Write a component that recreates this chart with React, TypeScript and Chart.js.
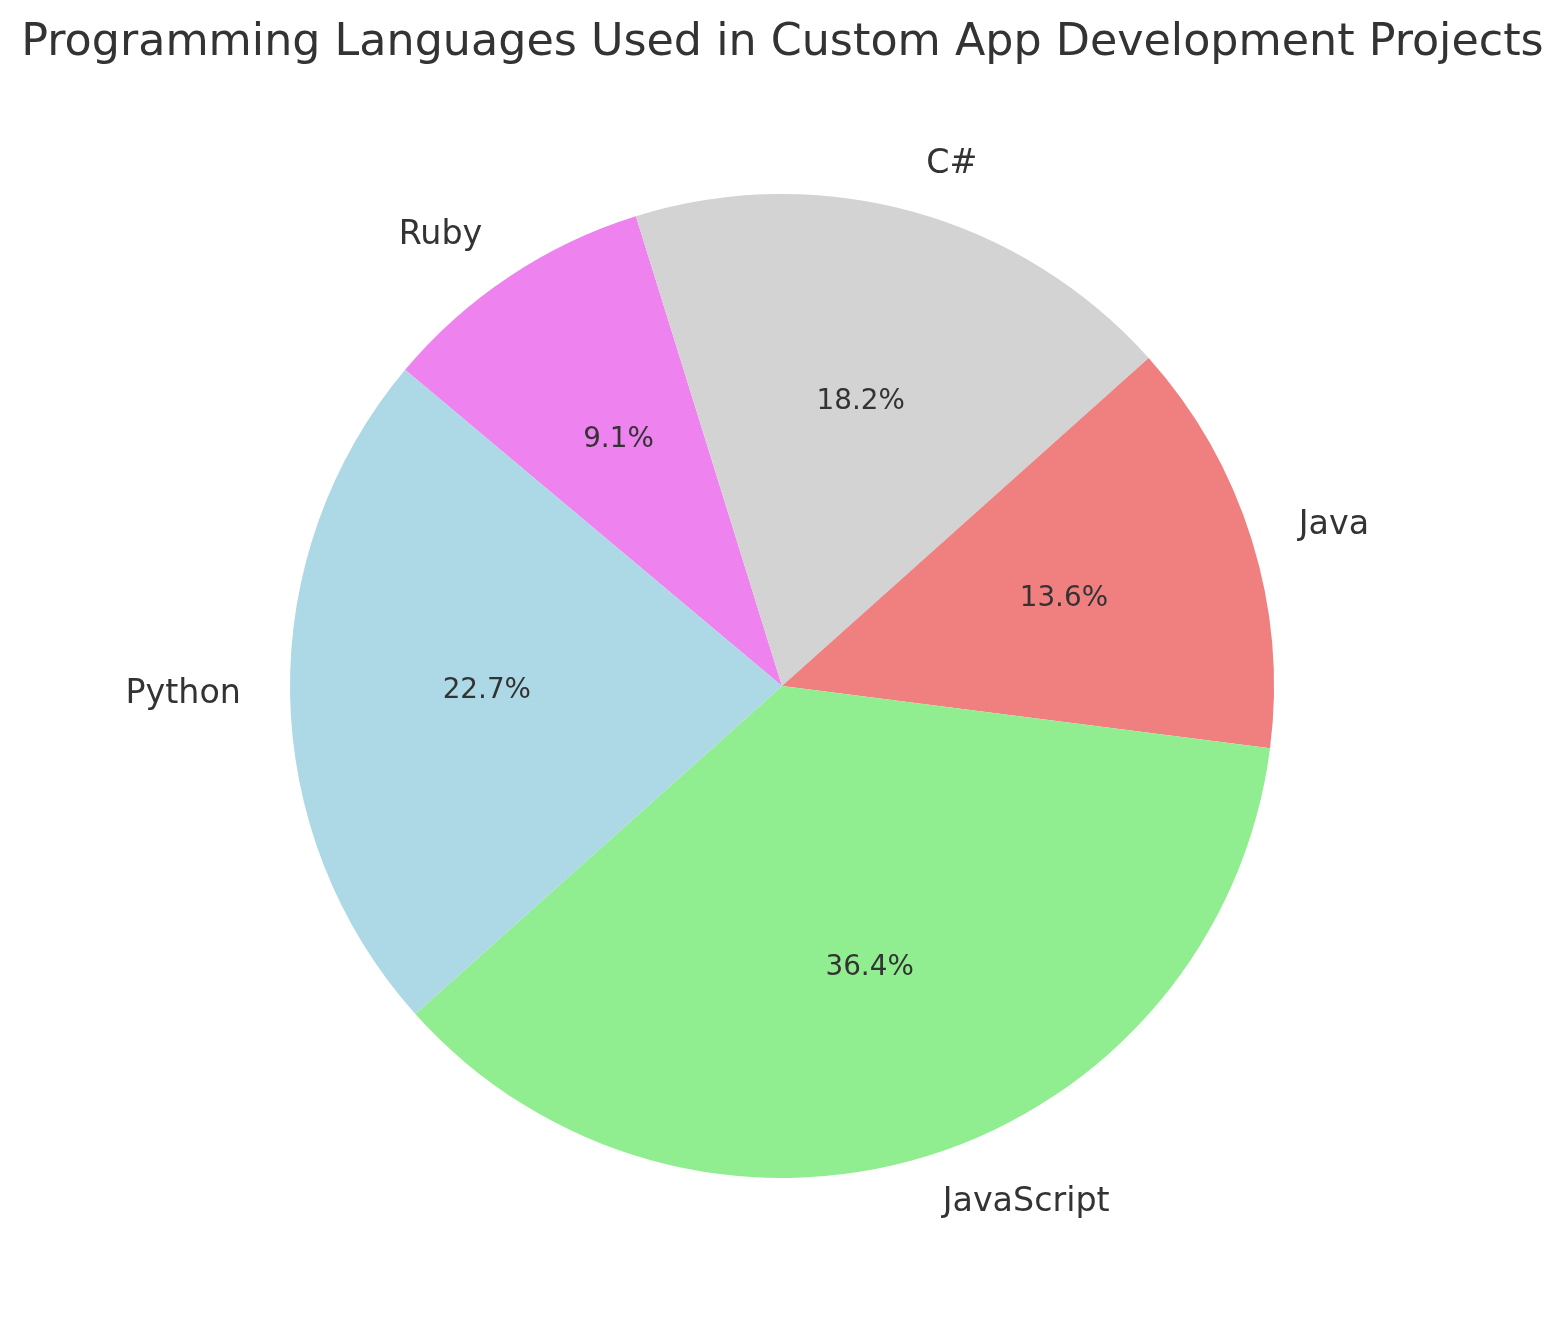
import React, { useEffect, useRef } from "react";
import { Chart, registerables } from "chart.js";

Chart.register(...registerables);

const TITLE = "Programming Languages Used in Custom App Development Projects";
const languages = ["Python", "JavaScript", "Java", "C#", "Ruby"];
const projectCounts = [25, 40, 15, 20, 10];
const sliceColors = ["#ADD8E6", "#90EE90", "#F08080", "#D3D3D3", "#EE82EE"];

const W = 1565;
const H = 1322;
const FONT = "'DejaVu Sans', 'Liberation Sans', sans-serif";
const TEXT = "#333333";

const labelPlugin = {
  id: "mplLabels",
  afterDraw(chart: any) {
    const ctx = chart.ctx;
    const meta = chart.getDatasetMeta(0);
    const data = chart.data.datasets[0].data as number[];
    const total = data.reduce((a: number, b: number) => a + b, 0);
    ctx.save();
    ctx.fillStyle = TEXT;
    // title
    ctx.font = `44.4px ${FONT}`;
    ctx.textAlign = "center";
    ctx.textBaseline = "alphabetic";
    ctx.fillText(TITLE, W / 2, 55);
    meta.data.forEach((arc: any, i: number) => {
      const { x, y, startAngle, endAngle, outerRadius } = arc.getProps(
        ["x", "y", "startAngle", "endAngle", "outerRadius"],
        true
      );
      const mid = (startAngle + endAngle) / 2;
      const c = Math.cos(mid);
      const s = Math.sin(mid);
      // outer label
      ctx.font = `33.3px ${FONT}`;
      ctx.textBaseline = "middle";
      ctx.textAlign = c > 0 ? "left" : "right";
      ctx.fillText(
        chart.data.labels[i],
        x + 1.1 * outerRadius * c,
        y + 1.1 * outerRadius * s
      );
      // percent label
      ctx.font = `27.8px ${FONT}`;
      ctx.textAlign = "center";
      const pct = ((data[i] / total) * 100).toFixed(1) + "%";
      ctx.fillText(pct, x + 0.6 * outerRadius * c, y + 0.6 * outerRadius * s);
    });
    ctx.restore();
  },
};

export default function App() {
  const ref = useRef<HTMLCanvasElement | null>(null);
  useEffect(() => {
    document.body.style.margin = "0";
    const canvas = ref.current!;
    // matplotlib draws counter-clockwise; Chart.js clockwise -> reverse order
    const labels = [...languages].reverse();
    const values = [...projectCounts].reverse();
    const colors = [...sliceColors].reverse();
    const chart = new Chart(canvas, {
      type: "pie",
      data: {
        labels,
        datasets: [
          {
            data: values,
            backgroundColor: colors,
            borderWidth: 0,
          },
        ],
      },
      options: {
        animation: false,
        responsive: false,
        devicePixelRatio: 1,
        rotation: -50,
        layout: {
          padding: { left: 290, right: 291, top: 194, bottom: 144 },
        },
        plugins: {
          legend: { display: false },
          tooltip: { enabled: false },
          title: { display: false },
        },
      },
      plugins: [labelPlugin],
    });
    return () => chart.destroy();
  }, []);
  return (
    <div style={{ width: W, height: H, background: "#fff" }}>
      <canvas ref={ref} width={W} height={H} style={{ width: W, height: H, display: "block" }} />
    </div>
  );
}
